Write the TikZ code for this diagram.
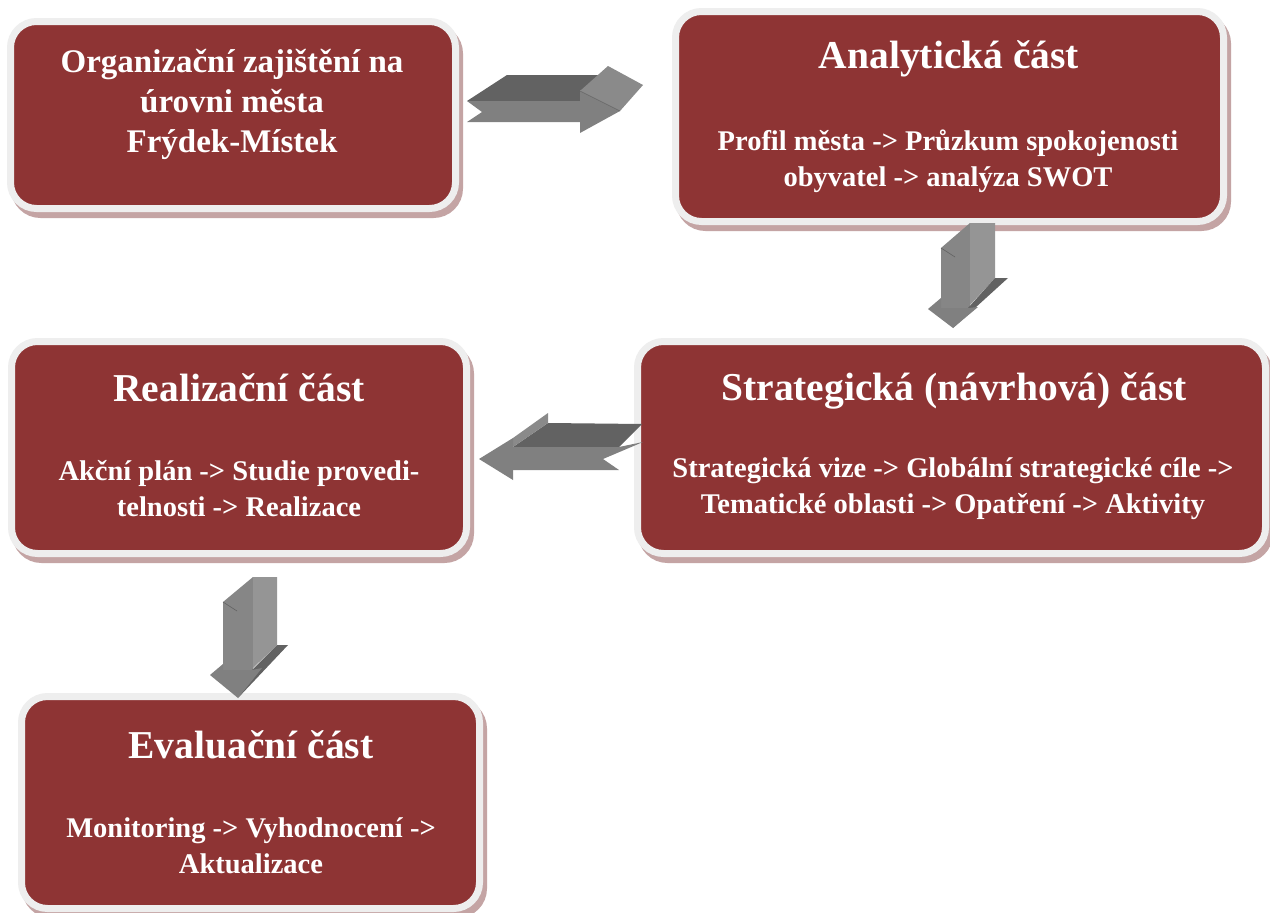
\documentclass[tikz,border=0pt]{standalone}
\usepackage{fontspec}
\setmainfont{Liberation Serif}
\definecolor{boxred}{HTML}{8E3434}
\definecolor{ringgray}{HTML}{EEEEEE}
\definecolor{shadowcol}{HTML}{C4A4A4}
\definecolor{arrdark}{HTML}{626262}
\definecolor{arrfront}{HTML}{808080}
\definecolor{arrlight}{HTML}{8A8A8A}
\definecolor{arrside}{HTML}{959595}
\definecolor{arrleft}{HTML}{868686}
\tikzset{
  redbox/.style={rectangle, rounded corners=26pt, fill=boxred, draw=ringgray,
    line width=7pt, inner sep=0pt,
    preaction={fill=shadowcol, draw=shadowcol, line width=7pt,
      transform canvas={shift={(4pt,-6pt)}}}},
  titletext/.style={text=white, font=\bfseries\fontsize{39.5}{44}\selectfont, align=center, inner sep=0pt},
  bodytext/.style={text=white, font=\bfseries\fontsize{28.5}{36}\selectfont, align=center, inner sep=0pt},
  orgtext/.style={text=white, font=\bfseries\fontsize{33}{40}\selectfont, align=center, inner sep=0pt},
  crease/.style={draw=arrdark, line width=0.6pt}
}
\begin{document}
\begin{tikzpicture}[x=1pt,y=-1pt]
\useasboundingbox (0,0) rectangle (1270,913);
\fill[white] (0,0) rectangle (1270,913);

% boxes
\node[redbox, minimum width=445pt, minimum height=187pt] (org) at (233,115) {};
\node[redbox, minimum width=548pt, minimum height=210pt] (ana) at (949.5,116.5) {};
\node[redbox, minimum width=455pt, minimum height=212pt] (rea) at (239,447.5) {};
\node[redbox, minimum width=628pt, minimum height=212pt] (str) at (951.5,447.5) {};
\node[redbox, minimum width=458pt, minimum height=212pt] (eva) at (250.5,802.5) {};

% texts
\node[orgtext] (orgT) at (232,104) {Organizační zajištění na\\úrovni města\\Frýdek-Místek};
\node[titletext] (anaT) at (949,59) {Analytická část};
\node[bodytext] (anaB) at (948,161) {Profil města -> Průzkum spokojenosti\\obyvatel -> analýza SWOT};
\node[titletext] (reaT) at (239,388) {Realizační část};
\node[bodytext] (reaB) at (239,489) {Akční plán -> Studie provedi-\\telnosti -> Realizace};
\node[titletext] (strT) at (954,391) {Strategická (návrhová) část};
\node[bodytext] (strB) at (953,489) {Strategická vize -> Globální strategické cíle ->\\Tematické oblasti -> Opatření -> Aktivity};
\node[titletext] (evaT) at (251,745) {Evaluační část};
\node[bodytext] (evaB) at (251,846) {Monitoring -> Vyhodnocení ->\\Aktualizace};

% arrow org -> ana
\fill[arrdark] (467,101) -- (507,75) -- (603,75) -- (580,91) -- (580,101) -- cycle;
\fill[arrfront] (467,101) -- (580,101) -- (580,91) -- (620,111) -- (580,133) -- (580,122) -- (467,122) -- (482,112) -- cycle;
\fill[arrlight] (580,91) -- (608,66) -- (643,85) -- (620,111) -- cycle;
\draw[crease] (580,91) -- (620,111);

% arrow ana -> str
\fill[arrleft] (941,248) -- (970,223) -- (970,308) -- (941,308) -- cycle;
\fill[arrside] (970,223) -- (995,223) -- (995,278) -- (970,305) -- cycle;
\fill[arrdark] (968,308) -- (995,278) -- (1008,278) -- (953,328) -- cycle;
\fill[arrfront] (928,309) -- (941,298) -- (941,308) -- (968,308) -- (978,307) -- (953,328) -- cycle;
\draw[crease] (941,248) -- (955,257);

% arrow str -> rea
\fill[arrdark] (513,447) -- (548,423) -- (642,424) -- (619,447) -- cycle;
\fill[arrfront] (513,447) -- (619,447) -- (643,442) -- (603,459) -- (619,470) -- (513,470) -- cycle;
\fill[arrlight] (513,438) -- (548,413) -- (548,423) -- (513,447) -- cycle;
\fill[arrfront] (479,459) -- (513,438) -- (513,480) -- cycle;

% arrow rea -> eva
\fill[arrleft] (223,602) -- (253,577) -- (253,670) -- (223,670) -- cycle;
\fill[arrside] (253,577) -- (277,577) -- (277,645) -- (253,668) -- cycle;
\fill[arrdark] (252,670) -- (277,645) -- (288,645) -- (238,698) -- cycle;
\fill[arrfront] (210,675) -- (223,664) -- (223,670) -- (252,670) -- (262,668) -- (238,698) -- cycle;
\draw[crease] (223,602) -- (237,611);
\end{tikzpicture}
\end{document}
